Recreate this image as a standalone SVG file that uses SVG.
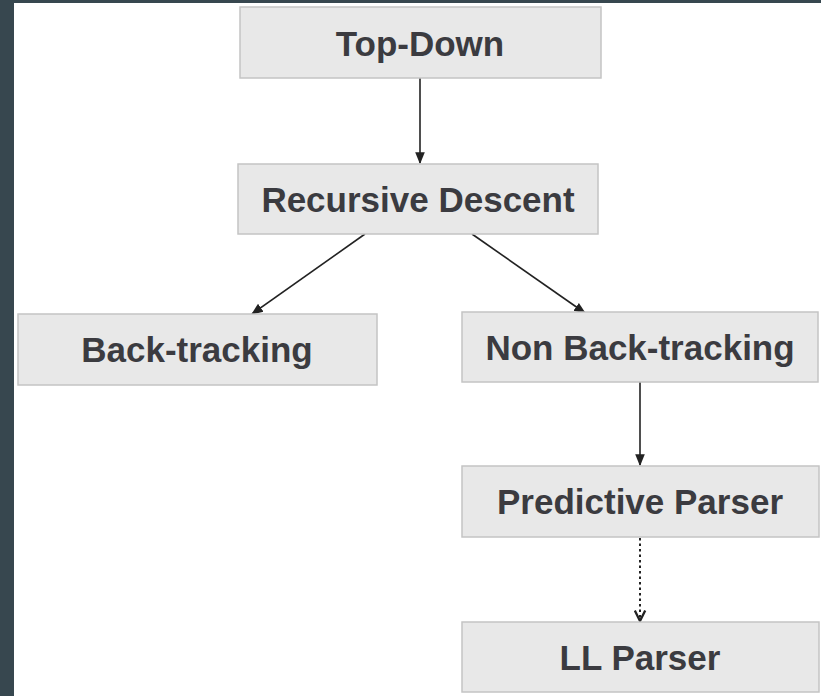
<svg xmlns="http://www.w3.org/2000/svg" width="821" height="696" viewBox="0 0 821 696">
  <style>
    .box { fill: #e8e8e8; stroke: #c4c4c4; stroke-width: 1.5; }
    .label { font-family: "Liberation Sans", Arial, sans-serif; font-weight: bold; font-size: 35px; fill: #3b3b40; text-anchor: middle; }
    .edge { stroke: #222; stroke-width: 1.6; fill: none; }
    .dotted { stroke-dasharray: 2.5 3; stroke-width: 2; }
  </style>
  <defs>
    <marker id="arrow" viewBox="0 0 10 10" refX="9" refY="5" markerWidth="7.5" markerHeight="7.5" markerUnits="strokeWidth" orient="auto">
      <path d="M0,1 L10,5 L0,9 Z" fill="#222"/>
    </marker>
    <marker id="openArrow" viewBox="0 0 10 10" refX="9" refY="5" markerWidth="6.5" markerHeight="6.5" markerUnits="strokeWidth" orient="auto">
      <path d="M1,1 L9,5 L1,9" fill="none" stroke="#222" stroke-width="1.8"/>
    </marker>
  </defs>

  <!-- page background and dark frame -->
  <rect x="0" y="0" width="821" height="696" fill="#ffffff"/>
  <rect x="0" y="0" width="821" height="3" fill="#37474f"/>
  <rect x="0" y="0" width="14" height="696" fill="#37474f"/>

  <g id="connectors">
    <line class="edge" x1="420" y1="78" x2="420" y2="163" marker-end="url(#arrow)"/>
    <line class="edge" x1="365" y1="234" x2="252" y2="314" marker-end="url(#arrow)"/>
    <line class="edge" x1="472" y1="234" x2="585" y2="313" marker-end="url(#arrow)"/>
    <line class="edge" x1="640" y1="382" x2="640" y2="465" marker-end="url(#arrow)"/>
    <line class="edge dotted" x1="640" y1="538" x2="640" y2="621" marker-end="url(#openArrow)"/>
  </g>

  <g id="top-down">
    <rect class="box" x="240" y="7" width="361" height="71"/>
    <text class="label" x="420" y="56">Top-Down</text>
  </g>
  <g id="recursive-descent">
    <rect class="box" x="238" y="164" width="360" height="70"/>
    <text class="label" x="418" y="212">Recursive Descent</text>
  </g>
  <g id="back-tracking">
    <rect class="box" x="18" y="314" width="359" height="71"/>
    <text class="label" x="197" y="362">Back-tracking</text>
  </g>
  <g id="non-back-tracking">
    <rect class="box" x="462" y="312" width="356" height="70"/>
    <text class="label" x="640" y="360">Non Back-tracking</text>
  </g>
  <g id="predictive-parser">
    <rect class="box" x="462" y="466" width="357" height="71"/>
    <text class="label" x="640" y="514">Predictive Parser</text>
  </g>
  <g id="ll-parser">
    <rect class="box" x="462" y="622" width="357" height="70"/>
    <text class="label" x="640" y="670">LL Parser</text>
  </g>
</svg>
